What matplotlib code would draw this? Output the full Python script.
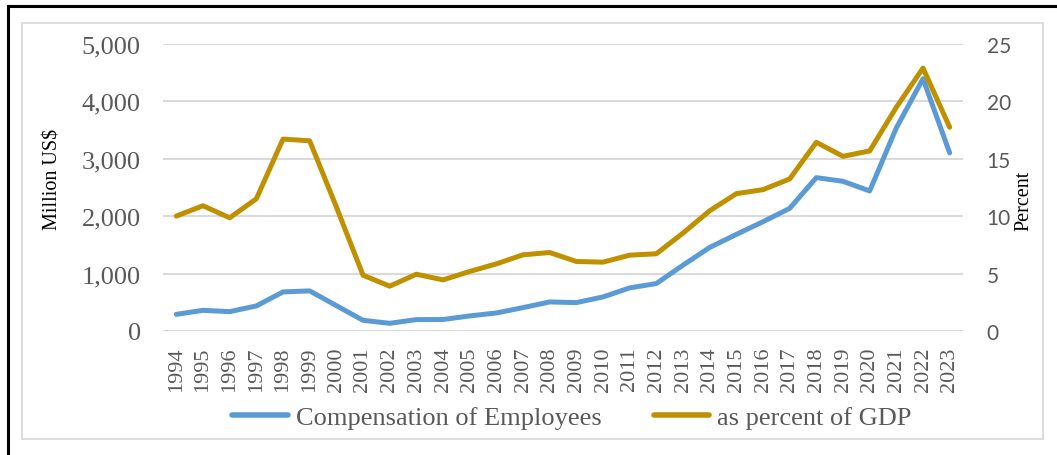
import matplotlib
matplotlib.use("Agg")
import matplotlib.pyplot as plt
from matplotlib.lines import Line2D
from matplotlib.patches import Rectangle
from matplotlib.ticker import FuncFormatter

years = list(range(1994, 2024))
compensation = [290, 360, 337, 436, 680, 698, 442, 186, 134, 198, 200, 262, 314, 407,
                506, 494, 593, 750, 826, 1146, 1454, 1681, 1902, 2134, 2669, 2605, 2437,
                3535, 4390, 3100]
pct_gdp = [10.0, 10.9, 9.85, 11.5, 16.7, 16.55, 10.8, 4.86, 3.9, 4.94, 4.45, 5.18, 5.84, 6.63,
           6.83, 6.05, 5.99, 6.6, 6.72, 8.52, 10.46, 11.95, 12.3, 13.23, 16.42, 15.2, 15.67,
           19.47, 22.88, 17.73]

BLUE = "#5B9BD5"
GOLD = "#BF9000"
GREY_TXT = "#595959"
GRID = "#D9D9D9"
SERIF = "Liberation Serif"

fig = plt.figure(figsize=(10.57, 4.56), dpi=100)

# frame: thin grey chart box plus black rule on top/left
fig.add_artist(Rectangle((22 / 1057, 1 - 440 / 456), (1043 - 22) / 1057, (440 - 24) / 456,
                         transform=fig.transFigure, fill=False, edgecolor=GRID, lw=1.3))
fig.add_artist(Line2D([7.5 / 1057, 7.5 / 1057], [0, 1 - 7 / 456], transform=fig.transFigure,
                      color="black", lw=2.2))
fig.add_artist(Line2D([7.5 / 1057, 1], [1 - 7 / 456, 1 - 7 / 456], transform=fig.transFigure,
                      color="black", lw=2.2))

ax = fig.add_axes([163 / 1057, 1 - 332 / 456, 800 / 1057, (332 - 44.7) / 456])
ax2 = ax.twinx()

x = list(range(len(years)))
ax.plot(x, compensation, color=BLUE, lw=3.6, solid_capstyle="round", solid_joinstyle="round")
ax2.plot(x, pct_gdp, color=GOLD, lw=3.6, solid_capstyle="round", solid_joinstyle="round")

ax.set_xlim(-0.5, len(years) - 0.5)
ax.set_ylim(0, 5000)
ax2.set_ylim(0, 25)
ax.set_yticks(range(0, 5001, 1000))
ax2.set_yticks(range(0, 26, 5))
ax.yaxis.set_major_formatter(FuncFormatter(lambda v, p: f"{int(v):,}"))

ax.set_xticks(x)
ax.set_xticklabels([str(y) for y in years], rotation=90, family=SERIF, fontsize=16,
                   color=GREY_TXT)
ax.grid(axis="y", color=GRID, lw=1.4)
ax.set_axisbelow(True)
for a in (ax, ax2):
    for s in a.spines.values():
        s.set_visible(False)
ax.tick_params(axis="both", length=0)
ax.tick_params(axis="x", pad=11)
ax.tick_params(axis="y", pad=16)
ax2.tick_params(axis="y", length=0, pad=17)
for lbl in ax.get_yticklabels():
    lbl.set_family(SERIF)
    lbl.set_fontsize(19)
    lbl.set_color(GREY_TXT)
for lbl in ax2.get_yticklabels():
    lbl.set_family("Lato")
    lbl.set_fontsize(15)
    lbl.set_color(GREY_TXT)

fig.text(53 / 1057, 1 - 179 / 456, "Million US$", rotation=90, ha="center", va="center",
         family=SERIF, fontsize=14.5, color="black")
fig.text(1024 / 1057, 1 - 201 / 456, "Percent", rotation=90, ha="center", va="center",
         family=SERIF, fontsize=14.5, color="black")

handles = [Line2D([], [], color=BLUE, lw=4, solid_capstyle="round"),
           Line2D([], [], color=GOLD, lw=4, solid_capstyle="round")]
leg = fig.legend(handles, ["Compensation of Employees", "as percent of GDP"],
                 loc="center", bbox_to_anchor=(572 / 1057, 1 - 418 / 456), ncol=2,
                 frameon=False, handlelength=2.1, handletextpad=0.3, columnspacing=2.0,
                 borderpad=0, prop={"family": SERIF, "size": 19})
for t in leg.get_texts():
    t.set_color(GREY_TXT)

fig.savefig("out.png", dpi=100)
